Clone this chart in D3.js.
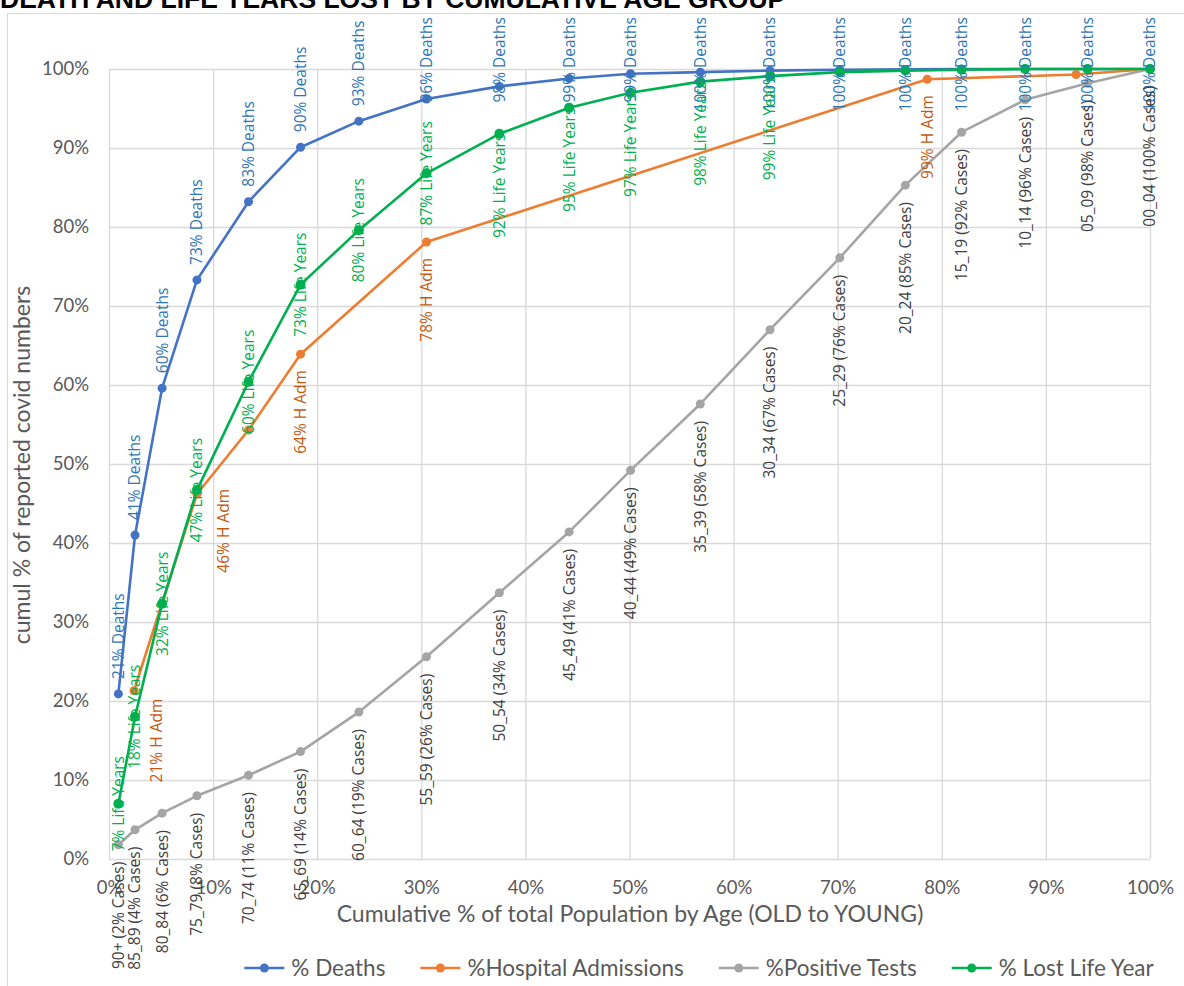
<!DOCTYPE html>
<html>
<head>
<meta charset="utf-8">
<script src="https://cdnjs.cloudflare.com/ajax/libs/d3/7.8.5/d3.min.js"></script>
<style>
  body { margin: 0; background: #fff; }
  .lbl { font-family: "Open Sans", sans-serif; font-size: 15.5px; }
  .tick text { font-family: Lato, sans-serif; font-size: 18.5px; fill: #595959; }
  .tick line { stroke: #d9d9d9; stroke-width: 1.3; }
  .domain { display: none; }
</style>
</head>
<body>
<div id="chart"></div>
<script>
// age bands, oldest first
var ageGroups = ["90+", "85_89", "80_84", "75_79", "70_74", "65_69", "60_64", "55_59", "50_54", "45_49",
  "40_44", "35_39", "30_34", "25_29", "20_24", "15_19", "10_14", "05_09", "00_04"];
// cumulative % of population (x)
var popCum = [0.9, 2.5, 5.1, 8.45, 13.4, 18.4, 24.0, 30.5, 37.5, 44.2, 50.1, 56.8, 63.5, 70.2, 76.5, 81.9, 88.0, 94.0, 100];
var deaths = [20.9, 41.0, 59.6, 73.3, 83.2, 90.1, 93.4, 96.2, 97.8, 98.8, 99.4, 99.6, 99.8, 99.9, 99.95, 100, 100, 100, 100];
var positives = [1.8, 3.7, 5.8, 8.0, 10.6, 13.6, 18.6, 25.6, 33.7, 41.4, 49.2, 57.6, 67.0, 76.1, 85.3, 92.0, 96.1, 98.2, 100];
var lifeYears = [7.0, 18.0, 32.3, 46.7, 60.4, 72.7, 79.6, 86.8, 91.8, 95.1, 97.0, 98.4, 99.1, 99.6, 99.8, 99.9, 100, 100, 100];
// hospital admissions use their own age bands
var hospPop = [2.4, 8.45, 13.4, 18.4, 30.5, 78.6, 92.9, 100];
var hospAdm = [21.3, 46.2, 54.3, 63.9, 78.1, 98.7, 99.3, 100];
var hospLabels = ["21% H Adm", "46% H Adm", "", "64% H Adm", "78% H Adm", "99% H Adm", "", ""];

var seriesNames = ["% Deaths", "%Hospital Admissions", "%Positive Tests", "% Lost Life Year"];
var ticks = d3.range(0, 101, 10);

var colors = ["#4472c4", "#ed7d31", "#a5a5a5", "#00b050"];
var labelColors = ["#2e75b6", "#c55a11", "#404040", "#00b050"];

var svgWidth = 1184;
var svgHeight = 986;
var plot = { left: 109, right: 1150, top: 69, bottom: 859 };

var svg = d3.select("#chart")
  .append("svg")
  .attr("width", svgWidth)
  .attr("height", svgHeight);

// title (cut off at the top in the original)
svg.append("text")
  .attr("x", 0)
  .attr("y", 8)
  .attr("font-family", "Liberation Sans, Arial, sans-serif")
  .attr("font-weight", "bold")
  .attr("font-size", 26.5)
  .text("DEATH AND LIFE YEARS LOST BY CUMULATIVE AGE GROUP");

// chart border
svg.append("rect")
  .attr("x", 7.5)
  .attr("y", 13.5)
  .attr("width", 1200)
  .attr("height", 1000)
  .attr("fill", "none")
  .attr("stroke", "#d9d9d9");

var xScale = d3.scaleLinear().domain([0, 100]).range([plot.left, plot.right]);
var yScale = d3.scaleLinear().domain([0, 100]).range([plot.bottom, plot.top]);

// axes with gridlines
svg.append("g")
  .attr("transform", `translate(0, ${plot.bottom})`)
  .call(d3.axisBottom(xScale).tickValues(ticks).tickFormat(d => d + "%")
    .tickSize(-(plot.bottom - plot.top)).tickPadding(22));

svg.append("g")
  .attr("transform", `translate(${plot.left}, 0)`)
  .call(d3.axisLeft(yScale).tickValues(ticks).tickFormat(d => d + "%")
    .tickSize(-(plot.right - plot.left)).tickPadding(20));

// axis titles
svg.append("text")
  .attr("transform", `translate(22, 465) rotate(-90)`)
  .attr("text-anchor", "middle")
  .attr("dy", "0.35em")
  .attr("font-family", "Lato, sans-serif")
  .attr("font-size", 23)
  .attr("fill", "#595959")
  .text("cumul % of reported covid numbers");

svg.append("text")
  .attr("x", 630)
  .attr("y", 922)
  .attr("text-anchor", "middle")
  .attr("font-family", "Lato, sans-serif")
  .attr("font-size", 23)
  .attr("fill", "#595959")
  .text("Cumulative % of total Population by Age (OLD to YOUNG)");

// series
var series = [
  popCum.map((p, i) => [p, deaths[i]]),
  hospPop.map((p, i) => [p, hospAdm[i]]),
  popCum.map((p, i) => [p, positives[i]]),
  popCum.map((p, i) => [p, lifeYears[i]])
];

var line = d3.line().x(d => xScale(d[0])).y(d => yScale(d[1]));

series.forEach(function(pts, s) {
  var g = svg.append("g");
  g.append("path")
    .datum(pts)
    .attr("d", line)
    .attr("fill", "none")
    .attr("stroke", colors[s])
    .attr("stroke-width", 2.6)
    .attr("stroke-linejoin", "round");
  g.selectAll("circle")
    .data(pts)
    .join("circle")
    .attr("cx", d => xScale(d[0]))
    .attr("cy", d => yScale(d[1]))
    .attr("r", s == 3 ? 5 : 4.5)
    .attr("fill", colors[s]);
});

// data labels, rotated like Excel
var labelGroup = svg.append("g");

function addLabel(px, py, txt, pos, gap, color, dx, dy) {
  var t = labelGroup.append("text")
    .attr("class", "lbl")
    .attr("fill", color)
    .attr("text-anchor", "middle")
    .attr("dy", "0.35em")
    .text(txt);
  var len = t.node().getComputedTextLength();
  var top;
  if (pos == "above") {
    top = py - gap - len;
    if (top < 17) top = 17;
  } else if (pos == "below") {
    top = py + gap;
  } else {
    top = py - len / 2;
  }
  top += dy || 0;
  t.attr("transform", `translate(${px + (dx || 0)}, ${top + len / 2}) rotate(-90)`);
}

series[0].forEach(function(d) {
  addLabel(xScale(d[0]), yScale(d[1]), Math.round(d[1]) + "% Deaths", "above", 15, labelColors[0]);
});

var hospNudge = { 0: [23, -8], 1: [27, -21] };
series[1].forEach(function(d, i) {
  if (!hospLabels[i]) return;
  var n = hospNudge[i] || [0, 0];
  addLabel(xScale(d[0]), yScale(d[1]), hospLabels[i], "below", 16, labelColors[1], n[0], n[1]);
});

series[2].forEach(function(d, i) {
  addLabel(xScale(d[0]), yScale(d[1]), ageGroups[i] + " (" + Math.round(d[1]) + "% Cases)", "below", 17, labelColors[2]);
});

series[3].forEach(function(d) {
  var v = Math.round(d[1]);
  if (v >= 100) return;
  if (d[1] >= 90) {
    addLabel(xScale(d[0]), yScale(d[1]), v + "% Life Years", "below", 0, labelColors[3]);
  } else {
    addLabel(xScale(d[0]), yScale(d[1]), v + "% Life Years", "center", 0, labelColors[3]);
  }
});

// legend
var legend = svg.append("g");
var items = [];
var lx = 0;
seriesNames.forEach(function(name, s) {
  var g = legend.append("g");
  g.append("line").attr("x1", 0).attr("x2", 40).attr("y1", 0).attr("y2", 0)
    .attr("stroke", colors[s]).attr("stroke-width", 2.6);
  g.append("circle").attr("cx", 20).attr("cy", 0).attr("r", 4.5).attr("fill", colors[s]);
  var t = g.append("text")
    .attr("x", 47)
    .attr("dy", "0.35em")
    .attr("font-family", "Lato, sans-serif")
    .attr("font-size", 22.5)
    .attr("fill", "#595959")
    .text(name);
  var w = 47 + t.node().getComputedTextLength();
  items.push({ g: g, x: lx });
  lx += w + 35;
});
var total = lx - 35;
var startX = 699 - total / 2;
items.forEach(function(it) {
  it.g.attr("transform", `translate(${startX + it.x}, 968)`);
});
</script>
</body>
</html>
